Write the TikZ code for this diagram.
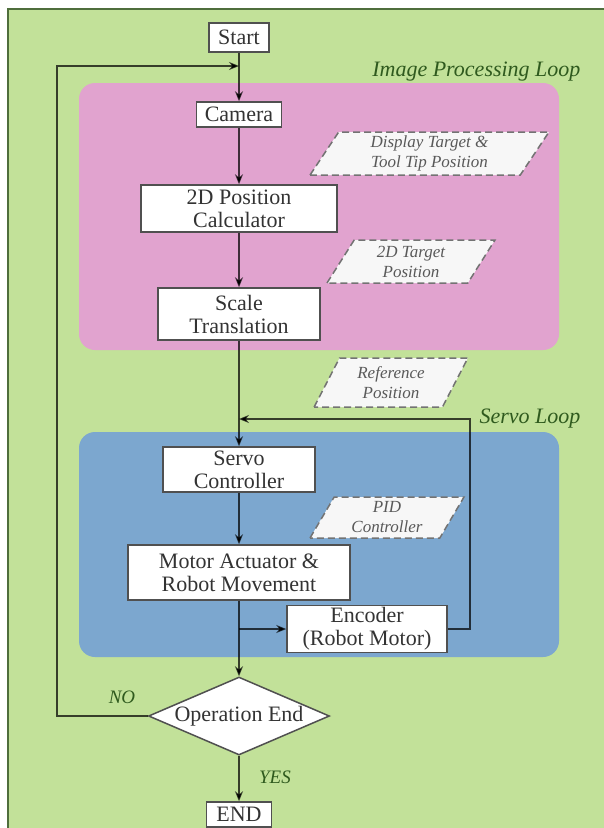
\documentclass[tikz,border=0pt]{standalone}
\usepackage{fontspec}
\setmainfont{Liberation Serif}
\usetikzlibrary{shapes.geometric,arrows.meta}
\definecolor{bggreen}{HTML}{C2E199}
\definecolor{framegreen}{HTML}{4F6E3C}
\definecolor{looppink}{HTML}{E1A3CF}
\definecolor{loopblue}{HTML}{7CA7CF}
\definecolor{boxgray}{HTML}{505050}
\definecolor{textgray}{HTML}{333333}
\definecolor{darkgreen}{HTML}{2F5A1E}
\tikzset{every node/.append style={font=\fontsize{22}{23}\selectfont,text=textgray}}
\tikzset{
	block/.style={draw=boxgray,fill=white,line width=1.5pt,align=center,inner sep=2pt},
	datum/.style={trapezium,trapezium left angle=64,trapezium right angle=116,
		trapezium stretches=true,draw=boxgray!80,fill=white!94!gray,line width=1.5pt,
		dash pattern=on 7pt off 4pt,align=center,inner sep=2pt,
		font=\fontsize{17}{20}\selectfont\itshape,text=black!65},
	decision/.style={diamond,draw=boxgray,fill=white,line width=1.5pt,
		shape aspect=2.3,inner sep=0pt},
	looplabel/.style={font=\fontsize{22}{24}\selectfont\itshape,text=darkgreen},
	answer/.style={font=\fontsize{19}{20}\selectfont\itshape,text=darkgreen},
	flow/.style={draw=black,draw opacity=0.72,line width=1.5pt,
		-{Stealth[length=10pt,width=8pt]}},
	link/.style={draw=black,draw opacity=0.72,line width=1.5pt}
}

\begin{document}
\begin{tikzpicture}[x=1pt,y=-1pt]
	\useasboundingbox (0,0) rectangle (604,828);
	% background and loop areas
	\fill[white] (0,0) rectangle (604,828);
	\draw[fill=bggreen,draw=framegreen,line width=2pt] (8,9) rectangle (624,844);
	\fill[looppink,rounded corners=16pt] (79,83) rectangle (559,350);
	\fill[loopblue,rounded corners=16pt] (79,432) rectangle (559,657);
	\node[looplabel,anchor=east] (iplabel) at (584,72) {Image Processing Loop};
	\node[looplabel,anchor=east] (svlabel) at (584,419) {Servo Loop};

	% main column
	\node[block,minimum width=60pt,minimum height=29pt] (start) at (239,37.5) {Start};
	\node[block,minimum width=85pt,minimum height=25pt] (camera) at (239,114.5) {Camera};
	\node[block,minimum width=196pt,minimum height=47pt] (calc) at (239,208.5) {2D Position\\Calculator};
	\node[block,minimum width=162pt,minimum height=52pt] (scale) at (239,314) {Scale\\Translation};
	\node[block,minimum width=152pt,minimum height=45pt] (servo) at (239,469.5) {Servo\\Controller};
	\node[block,minimum width=222pt,minimum height=55pt] (motor) at (239,572.5) {Motor Actuator \&\\Robot Movement};
	\node[block,minimum width=160pt,minimum height=46pt] (enc) at (367,629) {Encoder\\(Robot Motor)};
	\node[decision,minimum width=181pt,minimum height=78pt] (dec) at (239,716) {Operation End};
	\node[block,minimum width=65pt,minimum height=25pt] (endnode) at (239,814.5) {END};

	% data
	\node[datum,minimum width=239pt,minimum height=43pt] (disp) at (429.5,153.5) {Display Target \&\\Tool Tip Position};
	\node[datum,minimum width=168pt,minimum height=43pt] (tgt) at (411,261.5) {2D Target\\Position};
	\node[datum,minimum width=154pt,minimum height=49pt] (ref) at (391,382.5) {Reference\\Position};
	\node[datum,minimum width=154pt,minimum height=41pt] (pid) at (387,517.5) {PID\\Controller};

	\node[answer] (nolabel) at (122,697) {NO};
	\node[answer] (yeslabel) at (275,777) {YES};

	% connectors
	\coordinate (loopin) at (239,66);
	\coordinate (nocorner) at (57,66);
	\coordinate (fbin) at (239,419);
	\coordinate (fbcorner) at (470,419);
	\coordinate (split) at (239,629);

	\draw[flow] (start) -- (camera);
	\draw[flow] (camera) -- (calc);
	\draw[flow] (calc) -- (scale);
	\draw[flow] (scale) -- (servo);
	\draw[flow] (servo) -- (motor);
	\draw[flow] (motor) -- (dec);
	\draw[flow] (split) -- (enc);
	\draw[flow] (enc.east) -| (fbcorner) -- (fbin);
	\draw[flow] (dec.west) -| (nocorner) -- (loopin);
	\draw[flow] (dec) -- (endnode);
\end{tikzpicture}
\end{document}
